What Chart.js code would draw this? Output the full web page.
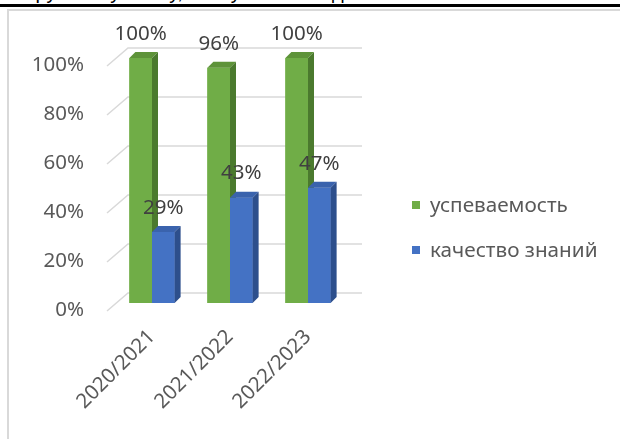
<!DOCTYPE html>
<html>
<head>
<meta charset="utf-8">
<script src="https://cdn.jsdelivr.net/npm/chart.js@4.4.0/dist/chart.umd.min.js"></script>
<style>
  html, body { margin: 0; padding: 0; background: #fff; overflow: hidden; }
  #wrap { position: relative; width: 620px; height: 439px; overflow: hidden; }
  #title { position: absolute; left: 8px; top: -18px; font: 20px "Liberation Sans", sans-serif; line-height: 20px; white-space: nowrap; color: #000; }
  #rule { position: absolute; left: 0; top: 4px; width: 620px; height: 3px; background: #000; }
  #frame { position: absolute; left: 7px; top: 9px; width: 660px; height: 480px; border-left: 2px solid #d9d9d9; border-top: 2px solid #d9d9d9; }
  canvas { position: absolute; left: 0; top: 0; }
  .lg { position: absolute; left: 412px; font: 20.7px "Noto Sans", sans-serif; color: #595959; line-height: 20px; white-space: nowrap; }
  .lg i { position: absolute; left: 0; top: 6px; width: 8px; height: 8px; }
  .lg span { position: absolute; left: 18px; top: -1px; }
</style>
</head>
<body>
<div id="wrap">
  <div id="title">по русскому языку, за 3 учебных года</div>
  <div id="rule"></div>
  <div id="frame"></div>
  <canvas id="chart" width="620" height="439"></canvas>
  <div id="legend"></div>
</div>
<script>
// values
const years = ['2020/2021', '2021/2022', '2022/2023'];
const success = [100, 96, 100];
const quality = [29, 43, 47];
const seriesNames = ['успеваемость', 'качество знаний'];
const yTicks = [0, 20, 40, 60, 80, 100];

// front / top / side colours for each series
const faces = [
  { front: '#70ad47', top: '#5e9339', side: '#4b7a2e' },
  { front: '#4472c4', top: '#3a63ad', side: '#2d4f8c' }
];
const depth = 6;
const font = '"Noto Sans", sans-serif';
const fontSize = 20.5;

// gridlines drawn on the back wall, joined to the labels by slanted lines
const wallGrid = {
  id: 'wallGrid',
  beforeDatasetsDraw(chart) {
    const { ctx, chartArea, scales } = chart;
    const y = scales.y;
    ctx.save();
    ctx.strokeStyle = '#d9d9d9';
    ctx.lineWidth = 1.5;
    yTicks.forEach(v => {
      const py = y.getPixelForValue(v);
      ctx.beginPath();
      ctx.moveTo(chartArea.left - 6, py + 8);
      ctx.lineTo(chartArea.left + 15, py - 10);
      ctx.lineTo(chartArea.right + 15, py - 10);
      ctx.stroke();
    });
    ctx.restore();
  }
};

// redraw bars per dataset with top and side faces, then the value labels
const bars3d = {
  id: 'bars3d',
  afterDatasetsDraw(chart) {
    const { ctx } = chart;
    ctx.save();
    chart.data.datasets.forEach((ds, di) => {
      const meta = chart.getDatasetMeta(di);
      const c = faces[di];
      meta.data.forEach(bar => {
        const x0 = bar.x - bar.width / 2, x1 = bar.x + bar.width / 2;
        const top = bar.y, bottom = bar.base;
        ctx.fillStyle = c.front;
        ctx.fillRect(x0, top, x1 - x0, bottom - top);
        ctx.fillStyle = c.top;
        ctx.beginPath();
        ctx.moveTo(x0, top);
        ctx.lineTo(x1, top);
        ctx.lineTo(x1 + depth, top - depth);
        ctx.lineTo(x0 + depth, top - depth);
        ctx.closePath();
        ctx.fill();
        ctx.fillStyle = c.side;
        ctx.beginPath();
        ctx.moveTo(x1, top);
        ctx.lineTo(x1 + depth, top - depth);
        ctx.lineTo(x1 + depth, bottom - depth);
        ctx.lineTo(x1, bottom);
        ctx.closePath();
        ctx.fill();
      });
    });
    ctx.fillStyle = '#404040';
    ctx.font = fontSize + 'px ' + font;
    ctx.textAlign = 'center';
    ctx.textBaseline = 'middle';
    chart.data.datasets.forEach((ds, di) => {
      chart.getDatasetMeta(di).data.forEach((bar, i) => {
        ctx.fillText(ds.data[i] + '%', bar.x, bar.y - 24);
      });
    });
    ctx.restore();
  }
};

new Chart(document.getElementById('chart'), {
  type: 'bar',
  data: {
    labels: years,
    datasets: [
      { label: seriesNames[0], data: success, backgroundColor: faces[0].front },
      { label: seriesNames[1], data: quality, backgroundColor: faces[1].front }
    ]
  },
  options: {
    responsive: false,
    animation: false,
    events: [],
    layout: { padding: { left: 0, top: 58, right: 273, bottom: 0 } },
    categoryPercentage: 0.58,
    barPercentage: 1,
    plugins: { legend: { display: false }, tooltip: { enabled: false } },
    scales: {
      x: {
        grid: { display: false, drawTicks: false },
        border: { display: false },
        ticks: {
          minRotation: 45, maxRotation: 45, autoSkip: false, padding: 22,
          color: '#595959', font: { family: font, size: fontSize }
        },
        afterFit(s) { s.height = 136; }
      },
      y: {
        min: 0, max: 100,
        grid: { display: false, drawTicks: false },
        border: { display: false },
        afterBuildTicks(s) { s.ticks = yTicks.map(v => ({ value: v })); },
        ticks: {
          padding: 29, labelOffset: 7,
          color: '#595959', font: { family: font, size: fontSize },
          callback: v => v + '%'
        },
        afterFit(s) { s.width = 113; }
      }
    }
  },
  plugins: [wallGrid, bars3d]
});

// legend
const legend = document.getElementById('legend');
[205, 250].forEach((cy, i) => {
  const row = document.createElement('div');
  row.className = 'lg';
  row.style.top = (cy - 10) + 'px';
  row.innerHTML = '<i style="background:' + faces[i].front + '"></i><span>' + seriesNames[i] + '</span>';
  legend.appendChild(row);
});
</script>
</body>
</html>
